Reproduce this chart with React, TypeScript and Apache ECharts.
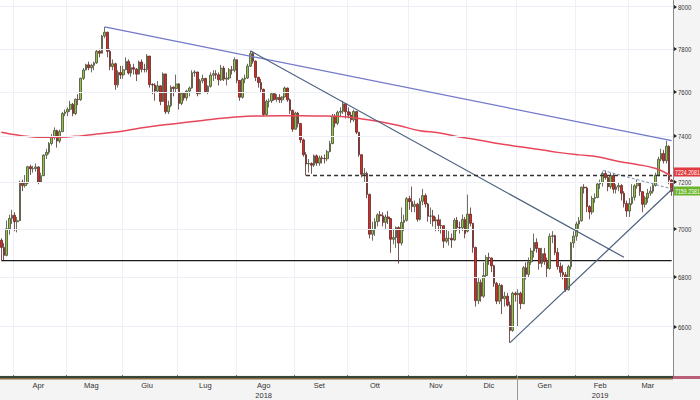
import React, { useEffect, useRef } from "react";
import * as echarts from "echarts";

const dates = [
  "2018-03-23","2018-03-26","2018-03-27","2018-03-28","2018-03-29",
  "2018-04-03","2018-04-04","2018-04-05","2018-04-06","2018-04-09","2018-04-10","2018-04-11","2018-04-12","2018-04-13","2018-04-16",
  "2018-04-17","2018-04-18","2018-04-19","2018-04-20","2018-04-23","2018-04-24","2018-04-25","2018-04-26","2018-04-27","2018-04-30",
  "2018-05-01","2018-05-02","2018-05-03","2018-05-04","2018-05-08","2018-05-09","2018-05-10","2018-05-11","2018-05-14","2018-05-15",
  "2018-05-16","2018-05-17","2018-05-18","2018-05-21","2018-05-22","2018-05-23","2018-05-24","2018-05-25","2018-05-29","2018-05-30","2018-05-31",
  "2018-06-01","2018-06-04","2018-06-05","2018-06-06","2018-06-07","2018-06-08","2018-06-11","2018-06-12","2018-06-13","2018-06-14",
  "2018-06-15","2018-06-18","2018-06-19","2018-06-20","2018-06-21","2018-06-22","2018-06-25","2018-06-26","2018-06-27","2018-06-28","2018-06-29",
  "2018-07-02","2018-07-03","2018-07-04","2018-07-05","2018-07-06","2018-07-09","2018-07-10","2018-07-11","2018-07-12","2018-07-13",
  "2018-07-16","2018-07-17","2018-07-18","2018-07-19","2018-07-20","2018-07-23","2018-07-24","2018-07-25","2018-07-26","2018-07-27","2018-07-30","2018-07-31",
  "2018-08-01","2018-08-02","2018-08-03","2018-08-06","2018-08-07","2018-08-08","2018-08-09","2018-08-10","2018-08-13","2018-08-14",
  "2018-08-15","2018-08-16","2018-08-17","2018-08-20","2018-08-21","2018-08-22","2018-08-23","2018-08-24","2018-08-28","2018-08-29","2018-08-30","2018-08-31",
  "2018-09-03","2018-09-04","2018-09-05","2018-09-06","2018-09-07","2018-09-10","2018-09-11","2018-09-12","2018-09-13","2018-09-14",
  "2018-09-17","2018-09-18","2018-09-19","2018-09-20","2018-09-21","2018-09-24","2018-09-25","2018-09-26","2018-09-27","2018-09-28",
  "2018-10-01","2018-10-02","2018-10-03","2018-10-04","2018-10-05","2018-10-08","2018-10-09","2018-10-10","2018-10-11","2018-10-12",
  "2018-10-15","2018-10-16","2018-10-17","2018-10-18","2018-10-19","2018-10-22","2018-10-23","2018-10-24","2018-10-25","2018-10-26",
  "2018-10-29","2018-10-30","2018-10-31",
  "2018-11-01","2018-11-02","2018-11-05","2018-11-06","2018-11-07","2018-11-08","2018-11-09","2018-11-12","2018-11-13","2018-11-14",
  "2018-11-15","2018-11-16","2018-11-19","2018-11-20","2018-11-21","2018-11-22","2018-11-23","2018-11-26","2018-11-27","2018-11-28","2018-11-29","2018-11-30",
  "2018-12-03","2018-12-04","2018-12-05","2018-12-06","2018-12-07","2018-12-10","2018-12-11","2018-12-12","2018-12-13","2018-12-14",
  "2018-12-17","2018-12-18","2018-12-19","2018-12-20","2018-12-21","2018-12-24","2018-12-27","2018-12-28","2018-12-31",
  "2019-01-02","2019-01-03","2019-01-04","2019-01-07","2019-01-08","2019-01-09","2019-01-10","2019-01-11","2019-01-14","2019-01-15",
  "2019-01-16","2019-01-17","2019-01-18","2019-01-21","2019-01-22","2019-01-23","2019-01-24","2019-01-25","2019-01-28","2019-01-29","2019-01-30","2019-01-31",
  "2019-02-01","2019-02-04","2019-02-05","2019-02-06","2019-02-07","2019-02-08","2019-02-11","2019-02-12","2019-02-13","2019-02-14",
  "2019-02-15","2019-02-18","2019-02-19","2019-02-20","2019-02-21","2019-02-22","2019-02-25","2019-02-26","2019-02-27","2019-02-28",
  "2019-03-01","2019-03-04","2019-03-05","2019-03-06","2019-03-07","2019-03-08","2019-03-11","2019-03-12","2019-03-13","2019-03-14",
  "2019-03-15","2019-03-18","2019-03-19","2019-03-20","2019-03-21","2019-03-22","2019-03-25",
];

// [open, close, low, high]
const ohlc = [
  // 2018-03
  [6952,6922,6867,6960],[6922,6889,6870,6940],[6889,7000,6885,7035],[7000,7044,6975,7060],[7044,7057,7020,7080],
  // 2018-04
  [7057,7030,6990,7070],[7030,7034,6985,7050],[7034,7199,7034,7205],[7199,7184,7160,7210],[7184,7195,7175,7230],
  [7195,7266,7190,7270],[7266,7257,7230,7275],[7257,7258,7240,7270],[7258,7265,7245,7280],[7265,7199,7190,7268],
  [7199,7227,7195,7240],[7227,7317,7225,7320],[7317,7329,7300,7345],[7329,7368,7320,7375],[7368,7398,7360,7410],
  [7398,7426,7385,7440],[7426,7379,7350,7430],[7379,7421,7370,7430],[7421,7502,7420,7510],[7502,7509,7490,7520],
  // 2018-05
  [7509,7521,7490,7530],[7521,7544,7510,7560],[7544,7502,7490,7550],[7502,7567,7495,7570],[7567,7565,7540,7590],
  [7565,7663,7560,7665],[7663,7701,7655,7710],[7701,7725,7700,7730],[7725,7711,7700,7740],[7711,7723,7690,7730],
  [7723,7734,7700,7740],[7734,7788,7730,7795],[7788,7779,7760,7800],[7779,7860,7778,7865],[7860,7878,7850,7903],
  [7878,7788,7760,7880],[7788,7717,7700,7800],[7717,7730,7700,7750],[7730,7633,7610,7735],[7633,7690,7620,7700],
  [7690,7678,7660,7720],
  // 2018-06
  [7678,7702,7660,7720],[7702,7741,7700,7760],[7741,7687,7680,7750],[7687,7712,7670,7730],[7712,7705,7680,7730],
  [7705,7682,7650,7710],[7682,7738,7680,7745],[7738,7704,7690,7750],[7704,7703,7690,7730],[7703,7766,7690,7775],
  [7766,7634,7620,7766],[7634,7632,7590,7640],[7632,7604,7560,7640],[7604,7628,7600,7650],[7628,7557,7540,7630],
  [7557,7683,7555,7690],[7683,7510,7500,7683],[7510,7538,7500,7560],[7538,7622,7530,7630],[7622,7616,7580,7625],
  [7616,7637,7600,7680],
  // 2018-07
  [7637,7548,7520,7640],[7548,7594,7540,7600],[7594,7573,7560,7600],[7573,7604,7560,7610],[7604,7618,7580,7625],
  [7618,7688,7615,7700],[7688,7692,7670,7700],[7692,7592,7580,7692],[7592,7651,7590,7660],[7651,7662,7640,7680],
  [7662,7601,7595,7665],[7601,7626,7590,7630],[7626,7677,7620,7690],[7677,7684,7650,7700],[7684,7679,7660,7700],
  [7679,7656,7630,7690],[7656,7710,7650,7725],[7710,7659,7650,7720],[7659,7664,7630,7690],[7664,7702,7655,7710],
  [7702,7700,7680,7720],[7700,7749,7690,7760],
  // 2018-08
  [7749,7653,7640,7750],[7653,7576,7560,7655],[7576,7659,7570,7665],[7659,7664,7640,7680],[7664,7719,7660,7730],
  [7719,7777,7715,7790],[7777,7742,7730,7785],[7742,7667,7650,7745],[7667,7643,7620,7670],[7643,7612,7600,7660],
  [7612,7498,7490,7615],[7498,7557,7495,7565],[7557,7559,7530,7570],[7559,7592,7550,7600],[7592,7566,7560,7600],
  [7566,7575,7555,7590],[7575,7564,7550,7590],[7564,7577,7550,7580],[7577,7618,7575,7625],[7618,7564,7555,7620],
  [7564,7516,7500,7570],[7516,7432,7420,7520],
  // 2018-09
  [7432,7504,7430,7510],[7504,7457,7440,7510],[7457,7384,7370,7460],[7384,7319,7310,7390],[7319,7278,7228,7330],
  [7278,7280,7240,7300],[7280,7273,7235,7285],[7273,7314,7265,7320],[7314,7282,7270,7320],[7282,7305,7270,7315],
  [7305,7302,7280,7315],[7302,7301,7280,7320],[7301,7332,7290,7340],[7332,7368,7330,7380],[7368,7490,7365,7500],
  [7490,7459,7440,7500],[7459,7508,7450,7515],[7508,7512,7490,7530],[7512,7546,7500,7560],[7546,7510,7480,7550],
  // 2018-10
  [7510,7495,7480,7530],[7495,7474,7460,7510],[7474,7511,7465,7520],[7511,7418,7410,7512],[7418,7319,7310,7420],
  [7319,7233,7220,7320],[7233,7237,7200,7260],[7237,7146,7130,7245],[7146,6977,6960,7150],[6977,6996,6950,7030],
  [6996,7030,6970,7045],[7030,7059,7010,7065],[7059,7055,7030,7075],[7055,7027,7010,7070],[7027,7050,7000,7060],
  [7050,7043,7020,7075],[7043,6956,6900,7045],[6956,6963,6935,7000],[6963,7005,6920,7010],[7005,6940,6855,7010],
  [6940,7027,6930,7090],[7027,7036,6990,7060],[7036,7128,7030,7135],
  // 2018-11
  [7128,7115,7080,7140],[7115,7094,7070,7180],[7094,7104,7070,7120],[7104,7040,7030,7110],[7040,7117,7035,7130],
  [7117,7141,7100,7170],[7141,7105,7090,7150],[7105,7053,7030,7110],[7053,7054,7020,7090],[7054,7033,7010,7080],
  [7033,7038,6990,7050],[7038,7014,6990,7060],[7014,7013,6980,7040],[7013,6948,6920,7015],[6948,6960,6940,7000],
  [6960,6960,6930,6990],[6960,6953,6920,6980],[6953,7036,6950,7045],[7036,7005,6990,7050],[7005,7004,6980,7030],
  [7004,7039,6990,7060],[7039,6980,6960,7050],
  // 2018-12
  [6990,7062,6985,7145],[7062,7023,7010,7090],[7023,6922,6900,7025],[6922,6704,6680,6925],[6704,6778,6690,6800],
  [6778,6722,6700,6790],[6722,6806,6715,6860],[6806,6880,6800,6890],[6880,6878,6850,6900],[6878,6846,6820,6880],
  [6846,6774,6760,6850],[6774,6702,6690,6780],[6702,6766,6690,6775],[6766,6712,6650,6770],[6712,6722,6680,6740],
  [6722,6686,6680,6735],[6686,6585,6537,6700],[6585,6734,6580,6740],[6734,6728,6700,6740],
  // 2019-01
  [6728,6734,6600,6750],[6734,6692,6670,6740],[6692,6838,6690,6845],[6838,6811,6790,6860],[6811,6862,6800,6880],
  [6862,6907,6850,6920],[6907,6943,6880,6980],[6943,6918,6900,6960],[6918,6856,6830,6920],[6856,6896,6840,6920],
  [6896,6863,6850,6920],[6863,6835,6800,6880],[6835,6968,6830,6980],[6968,6971,6940,6990],[6971,6901,6890,6975],
  [6901,6843,6830,6920],[6843,6819,6800,6860],[6819,6809,6790,6850],[6809,6748,6740,6820],[6748,6842,6745,6850],
  [6842,6941,6830,6945],[6941,6969,6920,6990],
  // 2019-02
  [6969,7020,6950,7030],[7020,7034,7000,7050],[7034,7177,7030,7180],[7177,7174,7150,7190],[7174,7094,7070,7180],
  [7094,7071,7040,7100],[7071,7129,7060,7140],[7129,7133,7110,7150],[7133,7191,7130,7200],[7191,7197,7170,7210],
  [7197,7237,7180,7245],[7237,7219,7210,7250],[7219,7179,7160,7230],[7179,7228,7170,7240],[7228,7168,7150,7235],
  [7168,7178,7150,7190],[7178,7184,7160,7200],[7184,7151,7120,7190],[7151,7107,7090,7160],[7107,7075,7050,7120],
  // 2019-03
  [7075,7107,7050,7130],[7107,7134,7100,7190],[7134,7183,7120,7190],[7183,7196,7170,7210],[7196,7158,7140,7200],
  [7158,7104,7070,7160],[7104,7131,7090,7140],[7131,7151,7110,7170],[7151,7160,7140,7180],[7160,7185,7150,7200],
  [7185,7228,7180,7240],[7228,7299,7225,7310],[7299,7324,7290,7345],[7324,7292,7280,7340],[7292,7356,7280,7380],
  [7356,7208,7190,7360],[7208,7159.2381,7140,7212],
];

// moving average
const maDates = [
  "2018-03-23","2018-04-05","2018-04-17","2018-04-26","2018-05-09","2018-05-18","2018-05-31","2018-06-11",
  "2018-06-21","2018-07-02","2018-07-12","2018-07-23","2018-08-02","2018-08-14","2018-08-23","2018-09-05",
  "2018-09-14","2018-09-26","2018-10-05","2018-10-17","2018-10-26","2018-11-07","2018-11-16","2018-11-28",
  "2018-12-07","2018-12-19","2019-01-02","2019-01-14","2019-01-23","2019-02-04","2019-02-13","2019-02-25",
  "2019-03-06","2019-03-15","2019-03-25",
];
const maValues = [
  7418,7404,7396,7396,7402,7411,7422,7436,
  7449,7458,7470,7480,7488,7491,7492,7492,
  7491,7489,7480,7465,7448,7425,7416,7397,
  7384,7367,7355,7342,7329,7318,7310,7289,
  7276,7258,7224.2081,
];

const yTickValues = [6600, 6800, 7000, 7200, 7400, 7600, 7800, 8000];
const monthKeys = ["2018-04","2018-05","2018-06","2018-07","2018-08","2018-09","2018-10","2018-11","2018-12","2019-01","2019-02","2019-03"];
const monthNames = ["Apr","Mag","Giu","Lug","Ago","Set","Ott","Nov","Dic","Gen","Feb","Mar"];
const yearLabelMonths = ["2018-08", "2019-02"];
const yearLabelTexts = ["2018", "2019"];

const resistanceLine = [["2018-05-22", 7903], ["2019-03-25", 7381]];
const fallingLine = [["2018-08-08", 7790], ["2019-02-27", 6881]];
const supportLine = [["2018-12-27", 6537], ["2019-03-25", 7167]];
const minorLine = [["2019-02-15", 7250], ["2019-03-25", 7170]];
const floorLevel = 6867;
const floorStart = "2018-03-23";
const dashedLevel = 7228;
const dashedStart = "2018-09-07";
const lastDate = "2019-03-25";
const lastPrice = 7159.2381;
const maLast = 7224.2081;

const FONT = "'Liberation Sans', Arial, sans-serif";

export default function App() {
  const ref = useRef<HTMLDivElement>(null);
  useEffect(() => {
    if (!ref.current) return;
    const chart = echarts.init(ref.current, null, { renderer: "svg", width: 700, height: 400 });

    const monthStart = new Set<number>();
    const labelIdx = new Set<number>();
    monthKeys.forEach((mk) => {
      const idxs = dates.map((d, i) => (d.slice(0, 7) === mk ? i : -1)).filter((i) => i >= 0);
      if (idxs.length) {
        monthStart.add(idxs[0]);
        labelIdx.add(idxs[0] + Math.floor(idxs.length / 2) - 1);
      }
    });

    const option: any = {
      animation: false,
      backgroundColor: "#f4f4f4",
      grid: { left: 0, right: 27, top: 0, bottom: 24, show: true, backgroundColor: "#ffffff", borderWidth: 0 },
      xAxis: {
        type: "category",
        data: dates,
        boundaryGap: true,
        axisLine: { show: false },
        axisTick: { show: true, interval: (i: number) => monthStart.has(i), length: 4, lineStyle: { color: "#777" } },
        splitLine: { show: true, interval: (i: number) => monthStart.has(i), lineStyle: { color: "#eef0f6" } },
        axisLabel: {
          interval: (i: number) => labelIdx.has(i),
          fontSize: 7.5,
          fontFamily: FONT,
          color: "#333",
          margin: 5,
          lineHeight: 10,
          formatter: (v: string) => {
            const key = v.slice(0, 7);
            const name = monthNames[monthKeys.indexOf(key)];
            const yi = yearLabelMonths.indexOf(key);
            return yi >= 0 ? name + "\n" + yearLabelTexts[yi] : name;
          },
        },
      },
      yAxis: {
        type: "log",
        logBase: 10,
        position: "right",
        min: 6411,
        max: 8032,
        axisLine: { show: true, lineStyle: { color: "#8a8a8a" } },
        axisTick: { show: false },
        axisLabel: { show: false },
        splitLine: { show: false },
      },
      series: [
        {
          name: "grid",
          type: "line",
          z: 1,
          data: [[floorStart, floorLevel], [lastDate, floorLevel]],
          symbol: "none",
          lineStyle: { color: "#1a1a1a", width: 1.2 },
          markLine: {
            silent: true,
            symbol: ["none", "none"],
            lineStyle: { color: "#edf0f6", type: "solid", width: 1 },
            label: { show: false },
            data: yTickValues.map((v) => ({ yAxis: v })),
          },
        },
        {
          name: "price",
          type: "candlestick",
          z: 3,
          data: ohlc,
          barWidth: "82%",
          itemStyle: {
            color: "#8ec63f",
            color0: "#e0261f",
            borderColor: "#4a4a3a",
            borderColor0: "#5a2a2a",
            borderWidth: 0.8,
          },
        },
        {
          name: "ma",
          type: "line",
          z: 4,
          data: maDates.map((d, i) => [d, maValues[i]]),
          smooth: 0.4,
          symbol: "none",
          lineStyle: { color: "#e8475a", width: 1.5 },
        },
        {
          name: "resistance",
          type: "line",
          z: 5,
          data: resistanceLine,
          symbol: "none",
          lineStyle: { color: "#7277c9", width: 1.2 },
        },
        {
          name: "falling",
          type: "line",
          z: 5,
          data: fallingLine,
          symbol: "none",
          lineStyle: { color: "#4b5f7e", width: 1.2 },
        },
        {
          name: "support",
          type: "line",
          z: 5,
          data: supportLine,
          symbol: "none",
          lineStyle: { color: "#4b5f7e", width: 1.2 },
        },
        {
          name: "minor",
          type: "line",
          z: 5,
          data: minorLine,
          symbol: "none",
          lineStyle: { color: "#7d8db3", width: 1, type: [3, 2] },
        },
        {
          name: "dashed",
          type: "line",
          z: 5,
          data: [[dashedStart, dashedLevel], [lastDate, dashedLevel]],
          symbol: "none",
          lineStyle: { color: "#333", width: 1.5, type: [4, 3] },
        },
      ],
    };
    chart.setOption(option);

    const a = chart.convertToPixel({ xAxisIndex: 0 }, "2018-12-31") as number;
    const b = chart.convertToPixel({ xAxisIndex: 0 }, "2019-01-02") as number;
    const sepX = Math.round((a + b) / 2) + 0.5;
    const yPix = (v: number) => chart.convertToPixel({ yAxisIndex: 0 }, v) as number;

    const tickLabels = yTickValues.map((v) => ({
      type: "group",
      x: 673,
      y: Math.round(yPix(v)),
      z: 60,
      children: [
        { type: "polygon", shape: { points: [[1, -2], [4, 0], [1, 2]] }, style: { fill: "#222" } },
        {
          type: "text",
          x: 5,
          y: 0,
          scaleX: 0.8,
          style: { text: String(v), fontSize: 7.5, fontFamily: FONT, fill: "#333", verticalAlign: "middle", align: "left" },
        },
      ],
    }));

    const tag = (value: number, bg: string, dy: number) => ({
      type: "group",
      x: 674,
      y: Math.round(yPix(value)) + dy,
      z: 70,
      children: [
        { type: "rect", shape: { x: 0, y: -4.5, width: 26, height: 9 }, style: { fill: bg } },
        {
          type: "text",
          x: 1,
          y: 0.5,
          scaleX: 0.7,
          style: { text: String(value), fontSize: 7.5, fontFamily: FONT, fill: "#fff", verticalAlign: "middle", align: "left" },
        },
      ],
    });

    chart.setOption({
      graphic: [
        { type: "rect", shape: { x: 0, y: 376, width: 673, height: 2 }, style: { fill: "#35463a" }, z: 50 },
        { type: "rect", shape: { x: 0, y: 378, width: 673, height: 1.5 }, style: { fill: "#8c6c3c" }, z: 50 },
        { type: "rect", shape: { x: 673, y: 376, width: 27, height: 3 }, style: { fill: "#b8607a" }, z: 50 },
        { type: "line", shape: { x1: sepX, y1: 376, x2: sepX, y2: 400 }, style: { stroke: "#999", lineWidth: 1 }, z: 50 },
        ...tickLabels,
        tag(maLast, "#e0393e", -4),
        tag(lastPrice, "#6ab42a", 0),
      ],
    });

    return () => chart.dispose();
  }, []);
  return <div ref={ref} style={{ position: "fixed", left: 0, top: 0, width: 700, height: 400 }} />;
}
